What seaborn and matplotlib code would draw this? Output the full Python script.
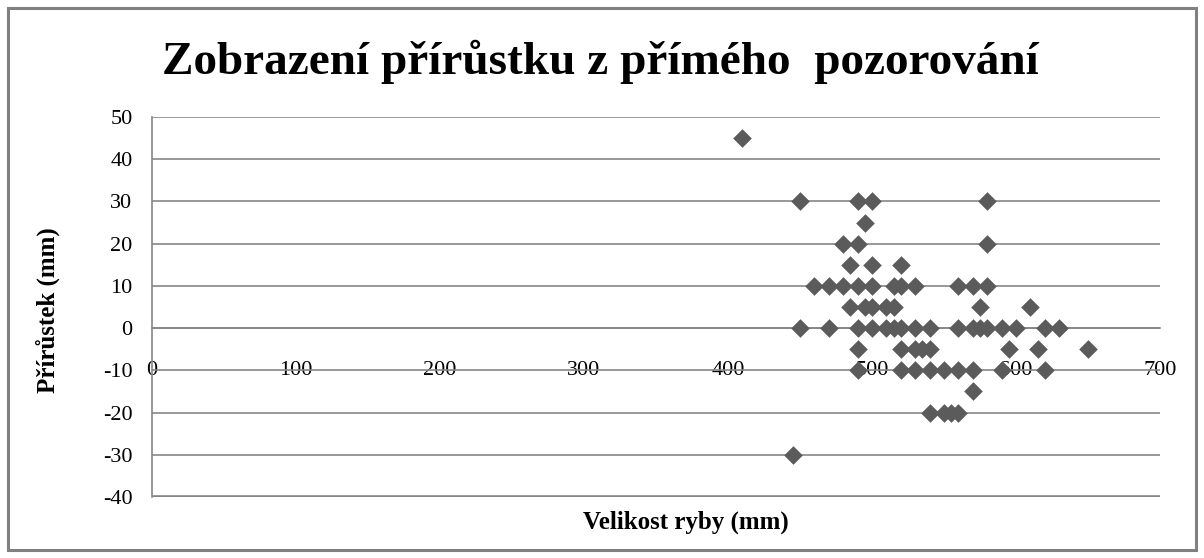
import seaborn as sns
import matplotlib.pyplot as plt
import matplotlib.patches as mpatches
import pandas as pd

#### data
size_mm = [410,
           450, 490, 500, 580,
           495,
           480, 490, 580,
           485, 500, 520,
           460, 470, 480, 490, 500, 515, 520, 530, 560, 570, 580,
           485, 495, 500, 510, 515, 575, 610,
           450, 470, 490, 500, 510, 515, 520, 530, 540, 560, 570, 575, 580, 590, 600, 620, 630,
           490, 520, 530, 535, 540, 595, 615, 650,
           490, 520, 530, 540, 550, 560, 570, 590, 620,
           570,
           540, 550, 555, 560,
           445]
growth_mm = [45,
             30, 30, 30, 30,
             25,
             20, 20, 20,
             15, 15, 15,
             10, 10, 10, 10, 10, 10, 10, 10, 10, 10, 10,
             5, 5, 5, 5, 5, 5, 5,
             0, 0, 0, 0, 0, 0, 0, 0, 0, 0, 0, 0, 0, 0, 0, 0, 0,
             -5, -5, -5, -5, -5, -5, -5, -5,
             -10, -10, -10, -10, -10, -10, -10, -10, -10,
             -15,
             -20, -20, -20, -20,
             -30]
x_ticks = [0, 100, 200, 300, 400, 500, 600, 700]
y_ticks = [-40, -30, -20, -10, 0, 10, 20, 30, 40, 50]

df = pd.DataFrame({"size": size_mm, "growth": growth_mm})

sns.set_style("white")
plt.rcParams['font.family'] = ['Liberation Serif', 'DejaVu Serif']
plt.rcParams['text.color'] = 'black'
plt.rcParams['xtick.labelcolor'] = 'black'
plt.rcParams['ytick.labelcolor'] = 'black'

grid_col = '#868686'
mark_col = '#5b5b5b'

fig = plt.figure(figsize=(12.04, 5.58), dpi=100)
ax = fig.add_axes([152/1204, 1-497/558, (1160-152)/1204, (497-117)/558])

# axis crossing at 0 like excel (set before ticks, it resets them)
for s in ['top', 'right']:
    ax.spines[s].set_visible(False)
ax.spines['bottom'].set_position(('data', 0))

sns.scatterplot(data=df, x="size", y="growth", marker="D", s=90,
                color=mark_col, edgecolor=mark_col, linewidth=0, ax=ax, zorder=3)

ax.set_xlim(0, 700)
ax.set_ylim(-40, 50)
ax.set_xticks(x_ticks)
ax.set_yticks(y_ticks)
ax.set_xticklabels([str(v) for v in x_ticks])
ax.set_yticklabels([str(v) for v in y_ticks])

# gridlines
ax.yaxis.grid(True, color=grid_col, linewidth=1.2)
ax.xaxis.grid(False)
ax.set_axisbelow(True)
ax.get_ygridlines()[0].set_linewidth(2.6)

ax.spines['bottom'].set_color(grid_col)
ax.spines['bottom'].set_linewidth(1.2)
ax.spines['left'].set_color(grid_col)
ax.spines['left'].set_linewidth(1.2)
ax.tick_params(axis='x', direction='out', length=6, width=1.2, color=grid_col,
               pad=18, labelsize=16, labelcolor='black')
ax.tick_params(axis='y', direction='out', length=6, width=1.2, color=grid_col,
               pad=8, labelsize=16, labelcolor='black')

ax.set_xlabel("")
ax.set_ylabel("")
fig.text(48/1204, 1-310/558, "Přírůstek (mm)", rotation=90, fontsize=18,
         fontweight='bold', ha='center', va='center', color='black')
fig.text(686/1204, 1-522/558, "Velikost ryby (mm)", fontsize=18,
         fontweight='bold', ha='center', va='center', color='black')
fig.text(600/1204, 1-62/558, "Zobrazení přírůstku z přímého  pozorování",
         fontsize=34, fontweight='bold', ha='center', va='center', color='black')

# chart border
fig.patches.append(mpatches.Rectangle((8/1204, 8/558), 1188/1204, 542/558,
                                      transform=fig.transFigure, fill=False,
                                      edgecolor='#808080', linewidth=2.2))

fig.savefig("out.png", dpi=100)
